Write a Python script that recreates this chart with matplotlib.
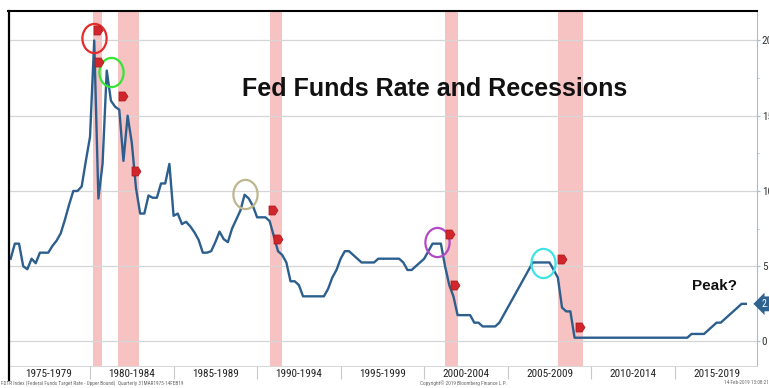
import numpy as np
import matplotlib
matplotlib.use("Agg")
import matplotlib.pyplot as plt
from matplotlib.path import Path
from matplotlib.lines import Line2D
from matplotlib import font_manager as fm

# ---------------- data ----------------
# Fed Funds Target Rate (upper bound), quarterly, first point 31 Mar 1975
fed_funds_upper = [
    5.5, 6.5, 6.5, 5.0, 4.8, 5.5, 5.2, 5.9, 5.9, 5.9,
    6.35, 6.7, 7.2, 8.1, 9.1, 10.0, 10.0, 10.3, 12.0, 13.6,
    20.0, 9.5, 11.8, 18.0, 16.0, 15.6, 15.4, 12.0, 15.0, 13.2,
    10.2, 8.5, 8.5, 9.7, 9.55, 9.55, 10.5, 10.5, 11.8, 8.35,
    8.5, 7.8, 7.95, 7.65, 7.25, 6.75, 5.9, 5.9, 6.0, 6.6,
    7.3, 6.8, 6.6, 7.5, 8.1, 8.7, 9.75, 9.5, 9.0, 8.25,
    8.25, 8.25, 8.0, 7.0, 6.0, 5.75, 5.25, 4.0, 4.0, 3.75,
    3.0, 3.0, 3.0, 3.0, 3.0, 3.0, 3.5, 4.25, 4.75, 5.5,
    6.0, 6.0, 5.75, 5.5, 5.25, 5.25, 5.25, 5.25, 5.5, 5.5,
    5.5, 5.5, 5.5, 5.5, 5.25, 4.75, 4.75, 5.0, 5.25, 5.5,
    6.0, 6.5, 6.5, 6.5, 5.0, 3.75, 3.0, 1.75, 1.75, 1.75,
    1.75, 1.25, 1.25, 1.0, 1.0, 1.0, 1.0, 1.25, 1.75, 2.25,
    2.75, 3.25, 3.75, 4.25, 4.75, 5.25, 5.25, 5.25, 5.25, 5.25,
    4.75, 4.25, 2.25, 2.0, 2.0, 0.25, 0.25, 0.25, 0.25, 0.25,
    0.25, 0.25, 0.25, 0.25, 0.25, 0.25, 0.25, 0.25, 0.25, 0.25,
    0.25, 0.25, 0.25, 0.25, 0.25, 0.25, 0.25, 0.25, 0.25, 0.25,
    0.25, 0.25, 0.25, 0.5, 0.5, 0.5, 0.5, 0.75, 1.0, 1.25,
    1.25, 1.5, 1.75, 2.0, 2.25, 2.5, 2.5,
]
first_quarter_end = 1975.25

recession_starts = [1980.2, 1981.7, 1990.75, 2001.25, 2008.0]
recession_ends = [1980.7, 1982.95, 1991.5, 2002.0, 2009.5]

period_starts = [1975, 1980, 1985, 1990, 1995, 2000, 2005, 2010, 2015]
period_labels = ["1975-1979", "1980-1984", "1985-1989", "1990-1994", "1995-1999",
                 "2000-2004", "2005-2009", "2010-2014", "2015-2019"]
y_ticks = [0, 5, 10, 15, 20]
y_tick_labels = ["0", "5", "10", "15", "20"]

circle_years = [1980.26, 1981.26, 1989.28, 2000.75, 2007.09]
circle_values = [20.19, 17.89, 9.8, 6.63, 5.24]
circle_colors = ["#e52a2a", "#33e633", "#bdb78f", "#b24ac2", "#3ee3e6"]

tag_years = [1980.46, 1980.54, 1981.99, 1982.75, 1990.97, 1991.27, 2001.54, 2001.84, 2008.27, 2009.33]
tag_values = [20.7, 18.6, 16.3, 11.3, 8.74, 6.8, 7.14, 3.75, 5.46, 0.94]

last_value_label = "2.50"

# ---------------- fonts ----------------
names = {f.name for f in fm.fontManager.ttflist}
narrow = None
for cand in ["Roboto Condensed", "Liberation Sans Narrow", "Archivo Narrow", "Open Sans Condensed"]:
    if cand in names:
        narrow = cand
        break
base_font = "Liberation Sans" if "Liberation Sans" in names else "DejaVu Sans"
label_font = narrow if narrow else base_font
label_size = 8 if narrow else 6.8

# ---------------- figure ----------------
W, H = 769, 388
fig = plt.figure(figsize=(W / 100, H / 100), dpi=100)
ax = fig.add_axes([9 / W, 22 / H, (757 - 9) / W, (377 - 22) / H])
ax.set_xlim(1975.15, 2019.92)
ax.set_ylim(-1.63, 21.96)

years = first_quarter_end + 0.25 * np.arange(len(fed_funds_upper))

for s, e in zip(recession_starts, recession_ends):
    ax.axvspan(s, e, color="#f7c2c2", lw=0, zorder=0.5)

for v in y_ticks:
    ax.axhline(v, color="#d6d6d6", lw=0.9, zorder=0.7)

ax.plot(years, fed_funds_upper, color="#2d5f8e", lw=1.7, zorder=3)

# ellipse-shaped highlight circles
uc = Path.unit_circle()
ell = Path(uc.vertices * np.array([0.83, 1.0]), uc.codes)
for x, y, c in zip(circle_years, circle_values, circle_colors):
    ax.plot([x], [y], marker=ell, ms=21, mfc="none", mec=c, mew=1.6, zorder=4)

# red recession tags (pointing right)
plate = Path([(-1, -1), (0.35, -1), (1, 0), (0.35, 1), (-1, 1), (-1, -1)],
             [Path.MOVETO, Path.LINETO, Path.LINETO, Path.LINETO, Path.LINETO, Path.CLOSEPOLY])
ax.plot(tag_years, tag_values, ls="none", marker=plate, ms=6.5, mfc="#d1262b", mec="#a51a1e",
        mew=0.5, zorder=5)

ax.text(2000.65, 16.31, "Fed Funds Rate and Recessions", ha="center", va="baseline",
        fontsize=18, fontweight="bold", family=base_font, color="#111111", zorder=6)
ax.text(2017.39, 3.42, "Peak?", ha="center", va="baseline", fontsize=11,
        fontweight="bold", family=base_font, color="#111111", zorder=6)

# axes styling
for side in ["left", "top"]:
    ax.spines[side].set_visible(False)
ax.spines["right"].set_color("#a9bdd1")
ax.spines["right"].set_linewidth(0.8)
ax.spines["bottom"].set_color("#d0d0d0")
ax.spines["bottom"].set_linewidth(0.6)

fig.add_artist(Line2D([9 / W, 9 / W], [1 - 11 / H, 1 - 380 / H], color="black", lw=1.6))
fig.add_artist(Line2D([8 / W, 757 / W], [1 - 11 / H, 1 - 11 / H], color="black", lw=1.5))

ax.set_xticks(period_starts[1:])
ax.set_xticks([p + 2.5 for p in period_starts], minor=True)
ax.set_xticklabels([], minor=False)
ax.set_xticklabels(period_labels, minor=True, family=label_font, fontsize=label_size, color="#222222")
ax.tick_params(axis="x", which="major", length=9.5, width=0.8, color="#c8c8c8", direction="out")
ax.tick_params(axis="x", which="minor", length=0, pad=2)

ax.yaxis.tick_right()
ax.set_yticks(y_ticks)
ax.set_yticklabels(y_tick_labels, family=label_font, fontsize=label_size, color="#333333")
ax.set_yticks([2.5, 7.5, 12.5, 17.5], minor=True)
ax.tick_params(axis="y", which="major", length=2.5, width=0.8, color="#a9bdd1", pad=1)
ax.tick_params(axis="y", which="minor", length=1.5, width=0.6, color="#a9bdd1")

# last value tag
ax.text(1.006, (fed_funds_upper[-1] - (-1.63)) / (21.96 + 1.63), last_value_label,
        transform=ax.transAxes, ha="left", va="center", fontsize=7, color="white",
        family=label_font, clip_on=False,
        bbox=dict(boxstyle="larrow,pad=0.25", fc="#2e6391", ec="none"))

# footer
fig.text(0.001, 1 - 383 / H, "FDTR Index (Federal Funds Target Rate - Upper Bound)  Quarterly 31MAR1975-14FEB19",
         fontsize=3.8, color="#666666", va="center", ha="left", family=label_font)
fig.text(463 / W, 1 - 383 / H, "Copyright\u00a9 2019 Bloomberg Finance L.P.",
         fontsize=3.8, color="#666666", va="center", ha="center", family=label_font)
fig.text(724 / W, 1 - 383 / H, "14-Feb-2019 13:08:21",
         fontsize=3.8, color="#666666", va="center", ha="left", family=label_font)

fig.savefig("out.png", dpi=100)
